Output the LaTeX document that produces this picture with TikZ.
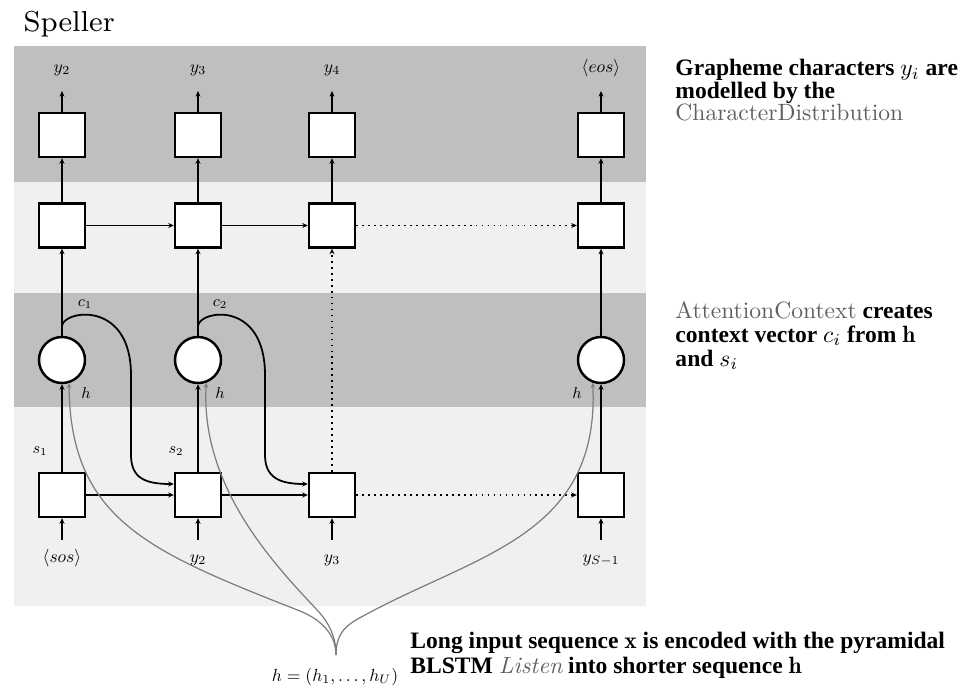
\documentclass[tikz,border=0pt]{standalone}
\usepackage{fontspec}
\usepackage{tikz}
\usetikzlibrary{arrows.meta,positioning,calc}
\newfontfamily\serifText{Liberation Serif}
\definecolor{bandDark}{RGB}{191,191,191}
\definecolor{bandLight}{RGB}{240,240,240}
\definecolor{linkGray}{RGB}{125,125,125}
\definecolor{modGray}{RGB}{95,95,95}
\newcommand{\modname}[1]{{\mdseries\rmfamily\color{modGray}#1}}
\lineskiplimit=-3pt

\begin{document}
\begin{tikzpicture}[
        cell/.style={draw=black, fill=white, line width=0.7pt, minimum width=0.46cm, minimum height=0.44cm, inner sep=0pt},
        attend/.style={draw=black, fill=white, circle, line width=0.7pt, minimum size=0.46cm, inner sep=0pt},
        arr/.style={-{Stealth[length=0.55mm, width=0.5mm]}, line width=0.5pt},
        dotarr/.style={arr, dash pattern=on 0.5pt off 1.2pt},
        harr/.style={-{Stealth[length=0.5mm, width=0.45mm]}, line width=0.35pt, draw=linkGray},
        sym/.style={font=\fontsize{10pt}{12pt}\selectfont, scale=0.5, transform shape, inner sep=0pt, text height=2.6mm, text depth=0.9mm},
        tag/.style={font=\fontsize{9pt}{10pt}\selectfont, scale=0.5, transform shape, inner sep=0pt},
        note/.style={anchor=north west, align=left, inner sep=0pt, scale=0.67, transform shape, font=\fontsize{10pt}{9.55pt}\selectfont\serifText\bfseries}
    ]
        \useasboundingbox (0,0) rectangle (9.65,-6.88);
        \node[anchor=base west, inner sep=0pt, font=\fontsize{8.2pt}{9pt}\selectfont] (speller) at (0.23,-0.32) {Speller};

        % Bands
        \fill[bandDark] (0.14,-0.46) rectangle (6.46,-1.82);
        \fill[bandLight] (0.14,-1.82) rectangle (6.46,-2.93);
        \fill[bandDark] (0.14,-2.93) rectangle (6.46,-4.07);
        \fill[bandLight] (0.14,-4.07) rectangle (6.46,-6.06);

        % Character distribution
        \node[cell] (out1) at (0.62,-1.35) {};
        \node[cell] (out2) at (1.98,-1.35) {};
        \node[cell] (out3) at (3.32,-1.35) {};
        \node[cell] (out4) at (6.01,-1.35) {};
        \node[sym] (y1) at (0.62,-0.68) {$y_2$};
        \node[sym] (y2) at (1.98,-0.68) {$y_3$};
        \node[sym] (y3) at (3.32,-0.68) {$y_4$};
        \node[sym] (y4) at (6.01,-0.68) {$\langle eos\rangle$};
        \draw[arr, shorten >=1.4mm] (out1) -- (y1);
        \draw[arr, shorten >=1.4mm] (out2) -- (y2);
        \draw[arr, shorten >=1.4mm] (out3) -- (y3);
        \draw[arr, shorten >=1.4mm] (out4) -- (y4);

        % Decoder state
        \node[cell] (dec1) at (0.62,-2.255) {};
        \node[cell] (dec2) at (1.98,-2.255) {};
        \node[cell] (dec3) at (3.32,-2.255) {};
        \node[cell] (dec4) at (6.01,-2.255) {};
        \draw[arr] (dec1) -- (out1);
        \draw[arr] (dec2) -- (out2);
        \draw[arr] (dec3) -- (out3);
        \draw[arr] (dec4) -- (out4);
        \draw[arr] (dec1) -- (dec2);
        \draw[arr] (dec2) -- (dec3);
        \draw[dotarr] (dec3) -- (dec4);

        % Attention context
        \node[attend] (att1) at (0.62,-3.60) {};
        \node[attend] (att2) at (1.98,-3.60) {};
        \node[attend] (att4) at (6.01,-3.60) {};
        \draw[arr] (att1) -- (dec1);
        \draw[arr] (att2) -- (dec2);
        \draw[arr] (att4) -- (dec4);
        \node[tag] (c1) at (0.85,-3.04) {$c_1$};
        \node[tag] (c2) at (2.20,-3.04) {$c_2$};
        \node[tag] (h1) at (0.86,-3.93) {$h$};
        \node[tag] (h2) at (2.20,-3.93) {$h$};
        \node[tag] (h4) at (5.77,-3.93) {$h$};

        % Speller inputs
        \node[cell] (in1) at (0.62,-4.95) {};
        \node[cell] (in2) at (1.98,-4.95) {};
        \node[cell] (in3) at (3.32,-4.95) {};
        \node[cell] (in4) at (6.01,-4.95) {};
        \node[sym] (x1) at (0.62,-5.58) {$\langle sos\rangle$};
        \node[sym] (x2) at (1.98,-5.58) {$y_2$};
        \node[sym] (x3) at (3.32,-5.58) {$y_3$};
        \node[sym] (x4) at (6.01,-5.58) {$y_{S-1}$};
        \node[tag] (s1) at (0.40,-4.51) {$s_1$};
        \node[tag] (s2) at (1.76,-4.51) {$s_2$};
        \draw[arr, shorten <=0.9mm] (x1) -- (in1);
        \draw[arr, shorten <=0.9mm] (x2) -- (in2);
        \draw[arr, shorten <=0.9mm] (x3) -- (in3);
        \draw[arr, shorten <=0.9mm] (x4) -- (in4);
        \draw[arr] (in1) -- (att1);
        \draw[arr] (in2) -- (att2);
        \draw[arr] (in4) -- (att4);
        \draw[dotarr] (in3) -- (dec3);
        \draw[arr] (in1) -- (in2);
        \draw[arr] (in2) -- (in3);
        \draw[dotarr] (in3) -- (in4);
        \draw[arr] ($(att1.north)+(0,0.1)$) .. controls (0.64,-3.10) and (1.31,-3.00) .. (1.31,-3.75) -- (1.31,-4.55) .. controls (1.31,-4.78) and (1.45,-4.84) .. ($(in2.west)+(0,0.11)$);
        \draw[arr] ($(att2.north)+(0,0.1)$) .. controls (2.00,-3.10) and (2.65,-3.00) .. (2.65,-3.75) -- (2.65,-4.55) .. controls (2.65,-4.78) and (2.80,-4.84) .. ($(in3.west)+(0,0.11)$);

        % Listener output
        \coordinate (hroot) at (3.36,-6.55);
        \node[sym, font=\fontsize{9.6pt}{11pt}\selectfont] (hseq) at (3.35,-6.77) {$h = (h_1, \ldots, h_U)$};
        \draw[harr] (hroot) .. controls (3.36,-6.35) and (3.22,-6.20) .. (3.00,-6.11) .. controls (1.50,-5.52) and (0.70,-5.20) .. (att1.-73);
        \draw[harr] (hroot) .. controls (3.36,-6.38) and (3.30,-6.24) .. (3.18,-6.11) .. controls (2.80,-5.70) and (2.00,-4.90) .. (att2.-70);
        \draw[harr] (hroot) .. controls (3.36,-6.38) and (3.42,-6.28) .. (3.56,-6.20) .. controls (4.70,-5.55) and (6.00,-5.40) .. (att4.-110);

        % Notes
        \node[note] (distNote) at (6.75,-0.59) {Grapheme characters $y_i$ are\\modelled by the\\\modname{CharacterDistribution}};
        \node[note, font=\fontsize{10pt}{10.15pt}\selectfont\serifText\bfseries] (attNote) at (6.75,-3.01) {\modname{AttentionContext} creates\\context vector $c_i$ from $\mathbf{h}$\\and $s_i$};
        \node[note, font=\fontsize{10pt}{10.6pt}\selectfont\serifText\bfseries] (listenNote) at (4.10,-6.32) {Long input sequence $\mathbf{x}$ is encoded with the pyramidal\\BLSTM {\modname{\itshape Listen}} into shorter sequence $\mathbf{h}$};
    \end{tikzpicture}
\end{document}
